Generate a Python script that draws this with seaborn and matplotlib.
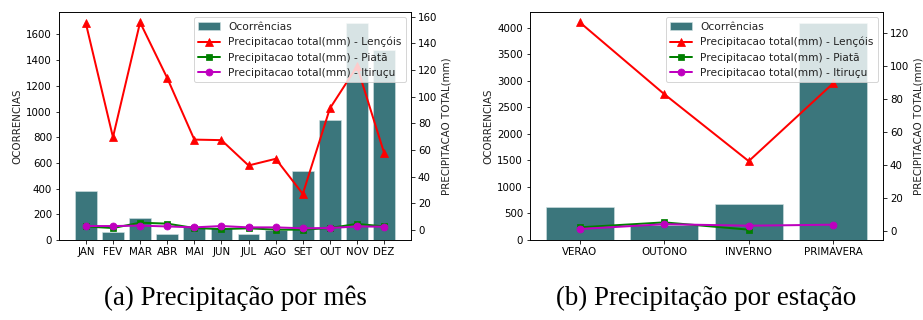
#precipitation vs occurrences chart
import numpy as np
import matplotlib
matplotlib.use("Agg")
import matplotlib.pyplot as plt
import seaborn as sns

# --- data ---
months = ['JAN', 'FEV', 'MAR', 'ABR', 'MAI', 'JUN', 'JUL', 'AGO', 'SET', 'OUT', 'NOV', 'DEZ']
occ_month = [383, 60, 169, 47, 100, 95, 50, 80, 539, 933, 1690, 1478]
lencois_month = [155, 69.6, 155.7, 114, 67.8, 67.4, 48.4, 53.4, 27.1, 91.2, 122.7, 57.7]
piata_month = [2.7, 1.5, 5.5, 4.8, 1.5, 0.7, 1.3, 0.3, 0.3, 1.5, 4.6, 2.7]
itirucu_month = [3.0, 3.0, 3.3, 2.7, 2.0, 3.0, 2.0, 2.0, 1.3, 1.5, 2.7, 2.5]

seasons = ['VERAO', 'OUTONO', 'INVERNO', 'PRIMAVERA']
occ_season = [616, 290, 678, 4094]
lencois_season = [126.5, 82.9, 42.2, 89.5]
piata_season = [2.0, 5.0, 0.6, np.nan]
itirucu_season = [1.0, 3.9, 3.0, 3.6]

captions = ['(a) Precipitação por mês', '(b) Precipitação por estação']

BAR_COLOR = '#3b767c'

sns.set_style('ticks', {'axes.edgecolor': 'black', 'xtick.color': 'black', 'ytick.color': 'black',
                        'text.color': '#222222', 'axes.labelcolor': '#222222'})
plt.rcParams['font.family'] = ['DejaVu Sans']
plt.rcParams['font.size'] = 10

DPI = 72
fig = plt.figure(figsize=(923 / DPI, 320 / DPI), dpi=DPI)


def draw_panel(rect, cats, occ, lencois, piata, itirucu, caption):
    ax = fig.add_axes(rect)
    sns.barplot(x=cats, y=occ, color=BAR_COLOR, saturation=1, ax=ax, label='Ocorrências',
                edgecolor='#cfe0e0', linewidth=0.6)
    ax.set_ylabel('OCORRENCIAS', fontsize=10.3)
    ax.tick_params(labelsize=10.3)

    ax2 = ax.twinx()
    xs = np.arange(len(cats))
    sns.lineplot(x=xs, y=lencois, color='red', marker='^', markersize=8, markeredgecolor='red',
                 linewidth=2, ax=ax2, label='Precipitacao total(mm) - Lençóis')
    sns.lineplot(x=xs, y=piata, color='green', marker='s', markersize=6.5, markeredgecolor='green',
                 linewidth=2, ax=ax2, label='Precipitacao total(mm) - Piatã')
    sns.lineplot(x=xs, y=itirucu, color='m', marker='o', markersize=7, markeredgecolor='m',
                 linewidth=2, ax=ax2, label='Precipitacao total(mm) - Itiruçu')
    ax2.set_ylabel('PRECIPITACAO TOTAL(mm)', fontsize=10.3)
    ax2.tick_params(labelsize=10.3)
    ax2.set_xlim(ax.get_xlim())

    h1, l1 = ax.get_legend_handles_labels()
    h2, l2 = ax2.get_legend_handles_labels()
    ax2.legend(h1 + h2, l1 + l2, loc='upper right', fontsize=10.6, framealpha=0.8)
    if ax.get_legend() is not None:
        ax.get_legend().remove()

    cx = rect[0] + rect[2] / 2
    fig.text(cx, 0.068, caption, ha='center', va='center', fontsize=27,
             family='Liberation Serif', color='black')
    return ax, ax2


draw_panel([59 / 923, 0.25, 352 / 923, 0.7125], months, occ_month,
           lencois_month, piata_month, itirucu_month, captions[0])
draw_panel([530 / 923, 0.25, 353 / 923, 0.7125], seasons, occ_season,
           lencois_season, piata_season, itirucu_season, captions[1])

fig.savefig('out.png', dpi=DPI)
